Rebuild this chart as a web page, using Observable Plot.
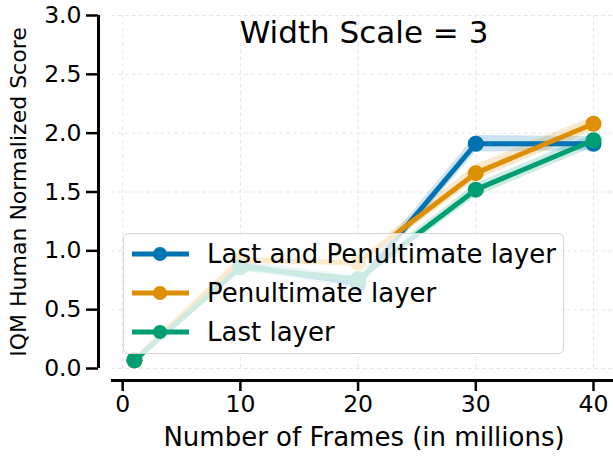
<!DOCTYPE html>
<html>
<head>
<meta charset="utf-8">
<script src="https://cdn.jsdelivr.net/npm/d3@7"></script>
<script src="https://cdn.jsdelivr.net/npm/@observablehq/plot@0.6"></script>
<style>
  html, body { margin: 0; padding: 0; background: #fff; }
  #wrap { position: relative; width: 613px; height: 456px; font-family: "DejaVu Sans", sans-serif; }
  #legend {
    position: absolute; left: 123px; top: 233px; width: 439px; height: 119px;
    border: 1px solid #d4d4d4; border-radius: 5px; background: rgba(255,255,255,0.8);
  }
  .row { position: absolute; left: 0; height: 38px; display: flex; align-items: center; }
  .row svg { margin-left: 6px; }
  .row span { margin-left: 17px; font-size: 26px; color: #000; white-space: nowrap; }
</style>
</head>
<body>
<div id="wrap"></div>
<script>
const frames = [1, 10, 20, 30, 40];
const seriesNames = ["Last and Penultimate layer", "Penultimate layer", "Last layer"];
const seriesColors = ["#0173b2", "#de8f05", "#029e73"];
const lastPen   = [0.07, 0.88, 0.72, 1.91, 1.91];
const lastPenLo = [0.05, 0.84, 0.67, 1.84, 1.85];
const lastPenHi = [0.09, 0.93, 0.77, 1.98, 1.97];
const pen   = [0.07, 0.92, 0.90, 1.66, 2.08];
const penLo = [0.05, 0.88, 0.86, 1.60, 2.02];
const penHi = [0.09, 0.97, 0.94, 1.73, 2.14];
const last   = [0.07, 0.86, 0.76, 1.52, 1.94];
const lastLo = [0.05, 0.82, 0.72, 1.46, 1.88];
const lastHi = [0.09, 0.90, 0.80, 1.57, 1.99];
const xTicks = [0, 10, 20, 30, 40];
const yTicks = [0, 0.5, 1.0, 1.5, 2.0, 2.5, 3.0];
const xDomain = [-0.95, 41.7];
const yDomain = [0, 3];
const title = "Width Scale = 3";
const xLabel = "Number of Frames (in millions)";
const yLabel = "IQM Human Normalized Score";

const values = [lastPen, pen, last];
const los = [lastPenLo, penLo, lastLo];
const his = [lastPenHi, penHi, lastHi];
const rows = [];
values.forEach((vals, s) => frames.forEach((f, i) => rows.push({
  series: seriesNames[s], frame: f, v: vals[i], lo: los[s][i], hi: his[s][i]
})));

const font = "DejaVu Sans";
const marks = [
  Plot.ruleX(xTicks, {y1: yDomain[0], y2: yDomain[1], stroke: "#e6e6e6", strokeWidth: 1, strokeDasharray: "4,3"}),
  Plot.ruleY(yTicks, {x1: xDomain[0], x2: xDomain[1], stroke: "#e6e6e6", strokeWidth: 1, strokeDasharray: "4,3"}),
];
seriesNames.forEach((name) => {
  const d = rows.filter(r => r.series === name);
  marks.push(Plot.areaY(d, {x: "frame", y1: "lo", y2: "hi", fill: "series", fillOpacity: 0.2}));
});
seriesNames.forEach((name) => {
  const d = rows.filter(r => r.series === name);
  marks.push(Plot.line(d, {x: "frame", y: "v", stroke: "series", strokeWidth: 5}));
  marks.push(Plot.dot(d, {x: "frame", y: "v", fill: "series", r: 8}));
});
marks.push(
  Plot.ruleX([xDomain[0]], {y1: yDomain[0], y2: yDomain[1], dx: -13, stroke: "#000", strokeWidth: 3}),
  Plot.ruleY([yDomain[0]], {x1: xDomain[0], x2: xDomain[1], dy: 12, stroke: "#000", strokeWidth: 3}),
  Plot.axisY({ticks: yTicks, tickFormat: d3.format(".1f"), tickSize: 12, tickPadding: 5, fontSize: 23.5, strokeWidth: 2.5, label: null, fill: "#000"}),
  Plot.axisX({ticks: xTicks, tickSize: 11, tickPadding: 4, fontSize: 23.5, strokeWidth: 2.5, label: null, fill: "#000"}),
  Plot.text([title], {frameAnchor: "top", dx: 8, dy: 18, lineAnchor: "middle", fontSize: 31, fill: "#000"}),
  Plot.text([xLabel], {frameAnchor: "bottom", dx: 8, dy: 57, lineAnchor: "middle", fontSize: 26, fill: "#000"}),
  Plot.text([yLabel], {frameAnchor: "left", dx: -80, dy: -6, rotate: -90, textAnchor: "middle", lineAnchor: "middle", fontSize: 22, fill: "#000"})
);

const chart = Plot.plot({
  width: 613, height: 456,
  marginTop: 15, marginLeft: 98, marginRight: 0, marginBottom: 76,
  style: {fontFamily: font, background: "#fff", overflow: "visible"},
  x: {domain: xDomain, insetLeft: 13},
  y: {domain: yDomain, insetBottom: 12},
  color: {domain: seriesNames, range: seriesColors},
  marks
});
const wrap = document.getElementById("wrap");
wrap.appendChild(chart);

const legend = document.createElement("div");
legend.id = "legend";
seriesNames.forEach((name, i) => {
  const row = document.createElement("div");
  row.className = "row";
  row.style.top = (1 + i * 38.8) + "px";
  row.innerHTML = `<svg width="60" height="20" viewBox="0 0 60 20"><line x1="2" y1="10" x2="59" y2="10" stroke="${seriesColors[i]}" stroke-width="5"/><circle cx="30" cy="10" r="7" fill="${seriesColors[i]}"/></svg><span>${name}</span>`;
  legend.appendChild(row);
});
wrap.appendChild(legend);
</script>
</body>
</html>
